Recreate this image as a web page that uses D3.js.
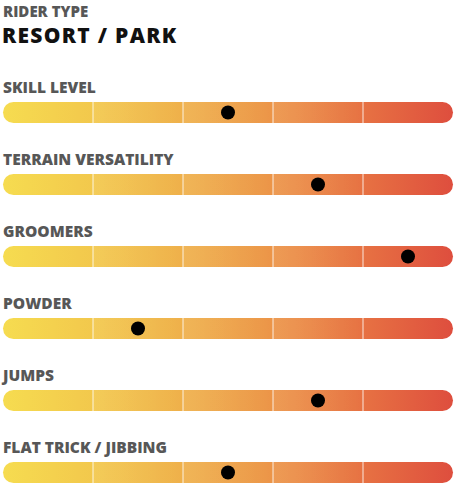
<!DOCTYPE html>
<meta charset="utf-8">
<style>
  body { margin: 0; background: #fff; }
  .label { font: 800 15.5px "Open Sans", "Liberation Sans", sans-serif; fill: #575757; }
  .kicker { font: 800 15px "Open Sans", "Liberation Sans", sans-serif; fill: #575757; }
  .title { font: 800 21px "Open Sans", "Liberation Sans", sans-serif; fill: #111; letter-spacing: 1.3px; }
</style>
<body>
<script src="https://d3js.org/d3.v7.min.js"></script>
<script>
  // chart data
  var riderType = "RESORT / PARK";
  var categories = ["SKILL LEVEL", "TERRAIN VERSATILITY", "GROOMERS", "POWDER", "JUMPS", "FLAT TRICK / JIBBING"];
  var ratings = [3, 4, 5, 2, 4, 3];
  var levels = [1, 2, 3, 4, 5];

  var width = 458, height = 488;
  var barH = 21, rowGap = 72, firstBar = 102;

  var svg = d3.select("body").append("svg")
    .attr("width", width)
    .attr("height", height);

  // header
  svg.append("text").attr("class", "kicker").attr("x", 3).attr("y", 16.5).text("RIDER TYPE");
  svg.append("text").attr("class", "title").attr("x", 2).attr("y", 43).text(riderType);

  var x = d3.scaleBand().domain(levels).range([3, 453]);
  var y = d3.scaleBand().domain(categories).range([firstBar, firstBar + rowGap * categories.length]);

  var defs = svg.append("defs");
  var grad = defs.append("linearGradient").attr("id", "ramp")
    .attr("gradientUnits", "userSpaceOnUse")
    .attr("x1", x.range()[0]).attr("x2", x.range()[1]).attr("y1", 0).attr("y2", 0);
  [["0%", "#f6dc50"], ["22%", "#f2c64c"], ["45%", "#eeaa4a"], ["65%", "#eb8d47"], ["82%", "#e66e42"], ["100%", "#de4e3e"]]
    .forEach(function (s) { grad.append("stop").attr("offset", s[0]).attr("stop-color", s[1]); });

  // slight sheen inside each segment
  var sheen = defs.append("linearGradient").attr("id", "sheen");
  sheen.append("stop").attr("offset", "0%").attr("stop-color", "#fff").attr("stop-opacity", 0.07);
  sheen.append("stop").attr("offset", "100%").attr("stop-color", "#fff").attr("stop-opacity", 0);

  var row = svg.selectAll(".row")
    .data(categories)
    .enter().append("g")
    .attr("class", "row")
    .attr("transform", function (d) { return "translate(0," + y(d) + ")"; });

  row.append("text")
    .attr("class", "label")
    .attr("x", 3)
    .attr("y", -9)
    .text(function (d) { return d; });

  row.append("rect")
    .attr("x", x.range()[0])
    .attr("y", 0)
    .attr("width", x.range()[1] - x.range()[0])
    .attr("height", barH)
    .attr("rx", barH / 2)
    .attr("fill", "url(#ramp)");

  row.selectAll(".seg")
    .data(levels.slice(1, 4))
    .enter().append("rect")
    .attr("class", "seg")
    .attr("x", function (d) { return x(d); })
    .attr("y", 0)
    .attr("width", x.bandwidth())
    .attr("height", barH)
    .attr("fill", "url(#sheen)");

  row.selectAll(".div")
    .data(levels.slice(1))
    .enter().append("line")
    .attr("class", "div")
    .attr("x1", function (d) { return x(d); })
    .attr("x2", function (d) { return x(d); })
    .attr("y1", 0)
    .attr("y2", barH)
    .attr("stroke", "#fff")
    .attr("stroke-opacity", 0.55)
    .attr("stroke-width", 1.5);

  row.append("circle")
    .attr("cx", function (d, i) { return x(ratings[i]) + x.bandwidth() / 2; })
    .attr("cy", barH / 2)
    .attr("r", 7)
    .attr("fill", "#000");
</script>
</body>
